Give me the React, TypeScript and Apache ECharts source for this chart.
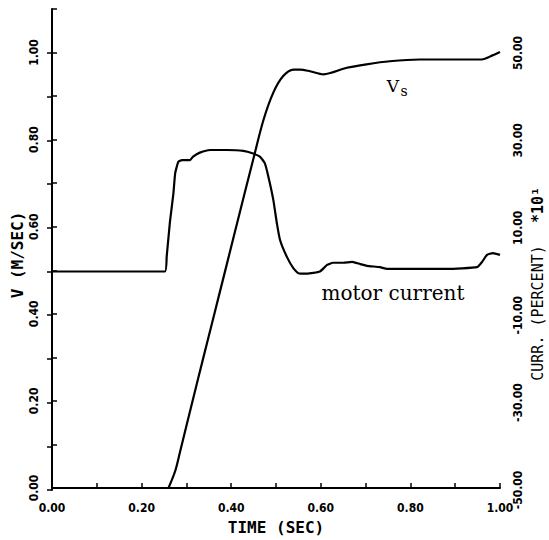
import React, { useEffect, useRef } from "react";
import * as echarts from "echarts";

// ---- data ----
const vsTime = [0.26, 0.275, 0.286, 0.315, 0.338, 0.36, 0.39, 0.42, 0.449, 0.472, 0.494, 0.516, 0.539, 0.554, 0.576, 0.606, 0.658, 0.702, 0.754, 0.821, 0.959, 0.978, 1.0];
const vsValue = [0, 0.039, 0.084, 0.205, 0.3, 0.39, 0.513, 0.636, 0.754, 0.845, 0.908, 0.946, 0.961, 0.961, 0.957, 0.95, 0.965, 0.973, 0.98, 0.984, 0.984, 0.991, 1.001];

const currentTime = [0, 0.252, 0.256, 0.263, 0.271, 0.275, 0.282, 0.29, 0.308, 0.315, 0.33, 0.353, 0.39, 0.427, 0.449, 0.464, 0.475, 0.483, 0.494, 0.502, 0.509, 0.524, 0.539, 0.55, 0.569, 0.598, 0.614, 0.627, 0.65, 0.67, 0.688, 0.703, 0.732, 0.748, 0.882, 0.949, 0.96, 0.971, 0.984, 1.0];
const currentValue = [0, 0, 3.4, 11.1, 17.9, 22.5, 25.1, 25.5, 25.5, 26.3, 27.2, 27.8, 27.8, 27.6, 27.0, 26.3, 24.8, 21.7, 16.4, 11.0, 7.2, 3.4, 0.7, -0.4, -0.5, 0, 1.5, 2.0, 2.0, 2.2, 1.7, 1.3, 1.0, 0.6, 0.6, 1.0, 2.2, 3.8, 4.2, 3.8];

const timeTickLabels = ["0.00", "0.20", "0.40", "0.60", "0.80", "1.00"];
const speedTickLabels = ["0.00", "0.20", "0.40", "0.60", "0.80", "1.00"];
const currentTickLabels = ["-50.00", "-30.00", "-10.00", "10.00", "30.00", "50.00"];

const TICK_FONT = "'DejaVu Sans Condensed', Roboto, sans-serif";
const MONO = "'DejaVu Sans Mono', monospace";

function pick(labels: string[]) {
  return (v: number) => {
    const s = (Math.abs(v) < 1e-9 ? 0 : v).toFixed(2);
    return labels.includes(s) ? s : "";
  };
}

const axisLine = { show: true, lineStyle: { color: "#000", width: 2 } };
const axisTick = { show: true, inside: true, length: 5, lineStyle: { color: "#000", width: 1.5 } };
const labelStyle = { color: "#000", fontFamily: TICK_FONT, fontWeight: "bold" as const, fontSize: 12 };

export default function App() {
  const ref = useRef<HTMLDivElement>(null);
  useEffect(() => {
    if (!ref.current) return;
    const chart = echarts.init(ref.current, undefined, { renderer: "svg" });
    chart.setOption({
      animation: false,
      backgroundColor: "#fff",
      grid: [
        { left: 52, right: 49, top: 9, bottom: 50 },
        { left: 52, right: 49, top: 53, bottom: 50 },
      ],
      xAxis: [
        {
          gridIndex: 0,
          type: "value",
          min: 0,
          max: 1,
          interval: 0.1,
          axisLine,
          axisTick,
          splitLine: { show: false },
          axisLabel: { ...labelStyle, margin: 14, formatter: pick(timeTickLabels) },
          name: "TIME (SEC)",
          nameLocation: "middle",
          nameGap: 31,
          nameTextStyle: { color: "#000", fontFamily: MONO, fontWeight: "bold", fontSize: 16 },
        },
        { gridIndex: 1, type: "value", min: 0, max: 1, show: false },
      ],
      yAxis: [
        {
          gridIndex: 0,
          type: "value",
          position: "left",
          min: 0,
          max: 1.1,
          interval: 0.1,
          axisLine,
          axisTick,
          splitLine: { show: false },
          axisLabel: { ...labelStyle, rotate: 90, margin: 12, formatter: pick(speedTickLabels) },
        },
        {
          gridIndex: 1,
          type: "value",
          position: "right",
          min: -50,
          max: 50,
          interval: 10,
          axisLine,
          axisTick,
          splitLine: { show: false },
          axisLabel: { ...labelStyle, rotate: 90, margin: 12, formatter: pick(currentTickLabels) },
        },
      ],
      series: [
        {
          name: "Vs",
          type: "line",
          xAxisIndex: 0,
          yAxisIndex: 0,
          data: vsTime.map((t, i) => [t, vsValue[i]]),
          showSymbol: false,
          smooth: 0.3,
          lineStyle: { color: "#000", width: 2.2 },
        },
        {
          name: "motor current",
          type: "line",
          xAxisIndex: 1,
          yAxisIndex: 1,
          data: currentTime.map((t, i) => [t, currentValue[i]]),
          showSymbol: false,
          smooth: 0.15,
          lineStyle: { color: "#000", width: 2.2 },
        },
      ],
      graphic: [
        {
          type: "text",
          x: 17,
          y: 255,
          rotation: Math.PI / 2,
          style: { text: "V (M/SEC)", font: "bold 16px " + MONO, fill: "#000", align: "center", verticalAlign: "middle" },
        },
        {
          type: "text",
          x: 538,
          y: 313,
          rotation: Math.PI / 2,
          style: { text: "CURR. (PERCENT)", font: "15px " + MONO, fill: "#000", align: "center", verticalAlign: "middle" },
        },
        {
          type: "text",
          x: 538,
          y: 205,
          rotation: Math.PI / 2,
          style: { text: "*10¹", font: "bold 15px " + MONO, fill: "#000", align: "center", verticalAlign: "middle" },
        },
        {
          type: "text",
          x: 393,
          y: 86,
          style: { text: "V", font: "17px 'DejaVu Serif', serif", fill: "#000", align: "center", verticalAlign: "middle" },
        },
        {
          type: "text",
          x: 404,
          y: 91,
          style: { text: "s", font: "14px 'DejaVu Serif', serif", fill: "#000", align: "center", verticalAlign: "middle" },
        },
        {
          type: "text",
          x: 393,
          y: 293,
          style: { text: "motor current", font: "20px 'DejaVu Serif', serif", fill: "#000", align: "center", verticalAlign: "middle" },
        },
      ],
    });
    return () => chart.dispose();
  }, []);
  return (
    <div
      ref={ref}
      style={{ position: "fixed", left: 0, top: 0, width: 549, height: 540, background: "#fff" }}
    />
  );
}
